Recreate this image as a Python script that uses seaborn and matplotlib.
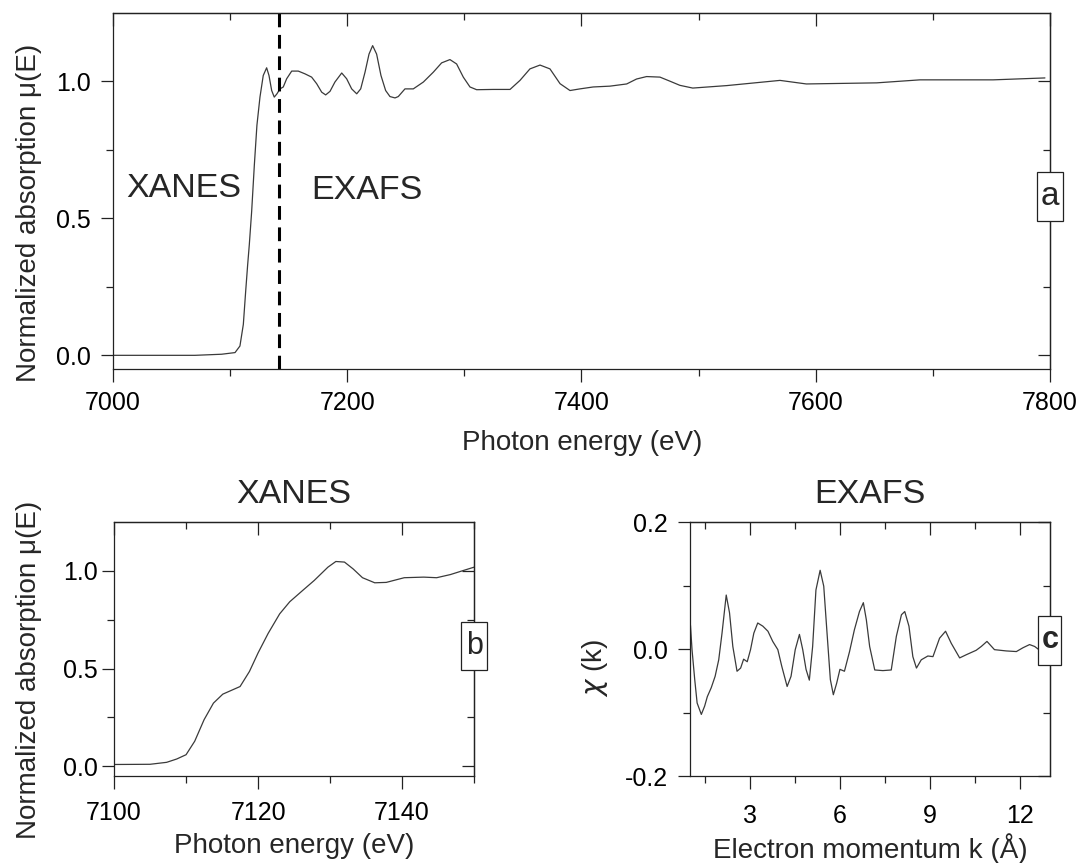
import numpy as np
import pandas as pd
import matplotlib
matplotlib.use("Agg")
import matplotlib.pyplot as plt
from matplotlib.patches import Rectangle
import seaborn as sns

# Full absorption spectrum mu(E)
energy = [7000, 7040, 7070, 7092.8, 7104.2, 7108.4, 7111.3, 7113.3, 7115, 7116.4,
          7118.4, 7120.7, 7122.9, 7125.5, 7128.3, 7131.2, 7133.2, 7135.5, 7137.7,
          7140, 7142.6, 7145.4, 7148.3, 7152.6, 7158.2, 7163.9, 7169.6, 7173.9,
          7178.2, 7181.6, 7185.3, 7189.5, 7195.3, 7199.5, 7203.8, 7208.1, 7211.5,
          7215.2, 7218.6, 7221.7, 7225.1, 7228.8, 7232.8, 7236.5, 7240.8, 7243.6,
          7249.3, 7256.4, 7265, 7273.5, 7280.6, 7287.7, 7293.4, 7299.1, 7304.8,
          7310.5, 7324.7, 7339, 7347.5, 7356, 7364.6, 7373.1, 7381.7, 7390.2,
          7398.7, 7410, 7424.3, 7438.6, 7447, 7455.6, 7467, 7475.6, 7484, 7495,
          7524, 7569.5, 7592, 7652, 7689, 7751.5, 7795.7]
mu = [0.0, 0.0, 0.0, 0.004, 0.01, 0.034, 0.113, 0.234, 0.331, 0.404,
      0.525, 0.695, 0.84, 0.943, 1.022, 1.05, 1.022, 0.967, 0.943,
      0.955, 0.973, 0.98, 1.01, 1.038, 1.038, 1.028, 1.016, 0.992,
      0.961, 0.951, 0.964, 0.998, 1.031, 1.01, 0.973, 0.955, 0.973,
      1.034, 1.1, 1.131, 1.1, 1.022, 0.967, 0.945, 0.94, 0.945,
      0.973, 0.973, 0.998, 1.034, 1.068, 1.08, 1.064, 1.016, 0.98,
      0.97, 0.971, 0.971, 1.004, 1.046, 1.06, 1.046, 0.992, 0.967,
      0.973, 0.98, 0.983, 0.991, 1.009, 1.018, 1.016, 1.001, 0.986, 0.976,
      0.985, 1.004, 0.991, 0.995, 1.006, 1.006, 1.013]
edge_boundary = 7142

# Near-edge region
xanes_e = [7100, 7105, 7107.3, 7108.7, 7110, 7111.2, 7112.5, 7113.8, 7115.1, 7117.5,
           7118.8, 7120, 7121.4, 7123, 7124.4, 7126.2, 7127.8, 7129.7, 7130.8, 7132,
           7133.2, 7134.5, 7136.2, 7137.8, 7140.3, 7143, 7144.8, 7146.7, 7148.6, 7150]
xanes_mu = [0.009, 0.01, 0.02, 0.037, 0.059, 0.128, 0.238, 0.323, 0.369, 0.408,
            0.485, 0.58, 0.68, 0.78, 0.842, 0.9, 0.951, 1.019, 1.048, 1.045,
            1.01, 0.965, 0.939, 0.941, 0.965, 0.968, 0.965, 0.981, 1.003, 1.019]

# EXAFS oscillations chi(k)
k_vals = [1.0, 1.02, 1.07, 1.16, 1.24, 1.38, 1.49, 1.58, 1.71, 1.84, 1.96, 2.07, 2.21,
          2.32, 2.43, 2.57, 2.69, 2.79, 2.91, 3.02, 3.13, 3.26, 3.43, 3.6, 3.76, 3.93,
          4.06, 4.24, 4.37, 4.51, 4.65, 4.76, 4.87, 4.98, 5.09, 5.2, 5.34, 5.46, 5.57,
          5.68, 5.78, 5.89, 6.0, 6.15, 6.32, 6.48, 6.65, 6.78, 6.88, 6.99, 7.16, 7.43,
          7.71, 7.88, 8.05, 8.16, 8.3, 8.43, 8.55, 8.71, 8.93, 9.1, 9.32, 9.52, 9.71,
          9.99, 10.21, 10.54, 10.71, 10.9, 11.15, 11.54, 11.88, 12.1, 12.32, 12.49, 12.63]
chi = [0.045, 0.036, -0.001, -0.048, -0.085, -0.103, -0.09, -0.075, -0.061, -0.043,
       -0.017, 0.025, 0.085, 0.057, 0.004, -0.035, -0.03, -0.016, -0.02, -0.001,
       0.025, 0.041, 0.036, 0.028, 0.012, -0.001, -0.027, -0.059, -0.043, -0.001,
       0.023, -0.001, -0.032, -0.049, 0.004, 0.093, 0.124, 0.099, 0.025, -0.048,
       -0.072, -0.054, -0.032, -0.035, -0.004, 0.03, 0.059, 0.073, 0.046, 0.004,
       -0.033, -0.034, -0.033, 0.02, 0.054, 0.059, 0.036, -0.012, -0.03, -0.017,
       -0.011, -0.012, 0.017, 0.028, 0.009, -0.014, -0.009, -0.002, 0.004, 0.012,
       -0.001, -0.003, -0.004, 0.002, 0.007, 0.004, -0.001]

sns.set_theme(style="ticks")
plt.rcParams["font.family"] = ["Liberation Sans", "DejaVu Sans"]
plt.rcParams["mathtext.fontset"] = "dejavusans"

INK = "#222222"
CURVE = "#3a3a3a"
TICK_FS = 18
LABEL_FS = 20
TITLE_FS = 24.5

fig = plt.figure(figsize=(10.78, 8.63), dpi=100)
ax_a = fig.add_axes([0.1048, 0.5724, 0.8692, 0.4125])
ax_b = fig.add_axes([0.1058, 0.1008, 0.334, 0.2943])
ax_c = fig.add_axes([0.640, 0.1008, 0.334, 0.2943])


def style_axes(ax, xmaj, xmin, ymaj, ymin, xpad, ypad):
    for s in ax.spines.values():
        s.set_color(INK)
        s.set_linewidth(0.9)
    ax.set_xticks(xmaj)
    ax.set_xticks(xmin, minor=True)
    ax.set_yticks(ymaj)
    ax.set_yticks(ymin, minor=True)
    ax.tick_params(which="both", direction="out", color=INK, width=0.9,
                   labelsize=TICK_FS, labelcolor="black")
    ax.tick_params(which="major", length=9)
    ax.tick_params(which="minor", length=5)
    ax.tick_params(axis="x", which="major", pad=xpad)
    ax.tick_params(axis="y", which="major", pad=ypad)
    top = ax.secondary_xaxis("top")
    top.set_xticks(xmaj)
    top.set_xticks(xmin, minor=True)
    right = ax.secondary_yaxis("right")
    right.set_yticks(ymaj)
    right.set_yticks(ymin, minor=True)
    for sec in (top, right):
        for s in sec.spines.values():
            s.set_color(INK)
            s.set_linewidth(0.9)
        sec.tick_params(which="both", direction="in", color=INK, width=0.9,
                        labeltop=False, labelright=False, labelleft=False,
                        labelbottom=False)
        sec.tick_params(which="major", length=9)
        sec.tick_params(which="minor", length=5)


def panel_tag(ax, letter, y, w, h, size, weight="normal"):
    box = Rectangle((1.0 - w / 2, y - h / 2), w, h, transform=ax.transAxes,
                    fc="white", ec=INK, lw=0.9, clip_on=False, zorder=9)
    ax.add_patch(box)
    ax.text(1.0, y, letter, transform=ax.transAxes, ha="center", va="center",
            fontsize=size, fontweight=weight, zorder=10, clip_on=False)


# (a) full spectrum
df_a = pd.DataFrame({"E": energy, "mu": mu})
sns.lineplot(data=df_a, x="E", y="mu", ax=ax_a, color=CURVE, linewidth=0.9,
             estimator=None, sort=False)
ax_a.axvline(edge_boundary, color="black", linewidth=2.2, linestyle=(0, (4.5, 2.5)))
ax_a.set_xlim(7000, 7800)
ax_a.set_ylim(-0.05, 1.25)
style_axes(ax_a, [7000, 7200, 7400, 7600, 7800], [7100, 7300, 7500, 7700],
           [0.0, 0.5, 1.0], [0.25, 0.75], xpad=7, ypad=7)
ax_a.set_yticklabels(["0.0", "0.5", "1.0"])
ax_a.set_xlabel("Photon energy (eV)", fontsize=LABEL_FS)
ax_a.set_ylabel("Normalized absorption μ(E)", fontsize=LABEL_FS)
ax_a.xaxis.set_label_coords(0.5005, -0.172)
ax_a.yaxis.set_label_coords(-0.0758, 0.44)
ax_a.text(7060.6, 0.578, "XANES", ha="center", va="baseline", fontsize=TITLE_FS)
ax_a.text(7216.8, 0.570, "EXAFS", ha="center", va="baseline", fontsize=TITLE_FS)
panel_tag(ax_a, "a", 0.4846, 26 / 937, 49 / 356, 24)

# (b) XANES region
df_b = pd.DataFrame({"E": xanes_e, "mu": xanes_mu})
sns.lineplot(data=df_b, x="E", y="mu", ax=ax_b, color=CURVE, linewidth=0.9,
             estimator=None, sort=False)
ax_b.set_xlim(7100, 7150)
ax_b.set_ylim(-0.05, 1.25)
style_axes(ax_b, [7100, 7120, 7140], [7110, 7130, 7150],
           [0.0, 0.5, 1.0], [0.25, 0.75], xpad=9, ypad=3)
ax_b.set_yticklabels(["0.0", "0.5", "1.0"])
ax_b.set_title("XANES", fontsize=TITLE_FS, pad=14)
ax_b.set_xlabel("Photon energy (eV)", fontsize=LABEL_FS)
ax_b.set_ylabel("Normalized absorption μ(E)", fontsize=LABEL_FS)
ax_b.xaxis.set_label_coords(0.5, -0.225)
ax_b.yaxis.set_label_coords(-0.2, 0.417)
panel_tag(ax_b, "b", 0.512, 26 / 360, 48 / 254, 22)

# (c) EXAFS oscillations
df_c = pd.DataFrame({"k": k_vals, "chi": chi})
sns.lineplot(data=df_c, x="k", y="chi", ax=ax_c, color=CURVE, linewidth=0.9,
             estimator=None, sort=False)
ax_c.set_xlim(1, 13)
ax_c.set_ylim(-0.2, 0.2)
style_axes(ax_c, [3, 6, 9, 12], [1.5, 4.5, 7.5, 10.5],
           [-0.2, 0.0, 0.2], [-0.1, 0.1], xpad=11, ypad=7)
ax_c.set_yticklabels(["-0.2", "0.0", "0.2"])
ax_c.set_title("EXAFS", fontsize=TITLE_FS, pad=14)
ax_c.set_xlabel("Electron momentum k (Å)", fontsize=LABEL_FS)
ax_c.set_ylabel(r"$\chi$ (k)", fontsize=LABEL_FS)
ax_c.xaxis.set_label_coords(0.5, -0.225)
ax_c.yaxis.set_label_coords(-0.222, 0.425)
panel_tag(ax_c, "c", 0.534, 23 / 360, 49 / 254, 22, weight="bold")

fig.savefig("out.png", dpi=100)
